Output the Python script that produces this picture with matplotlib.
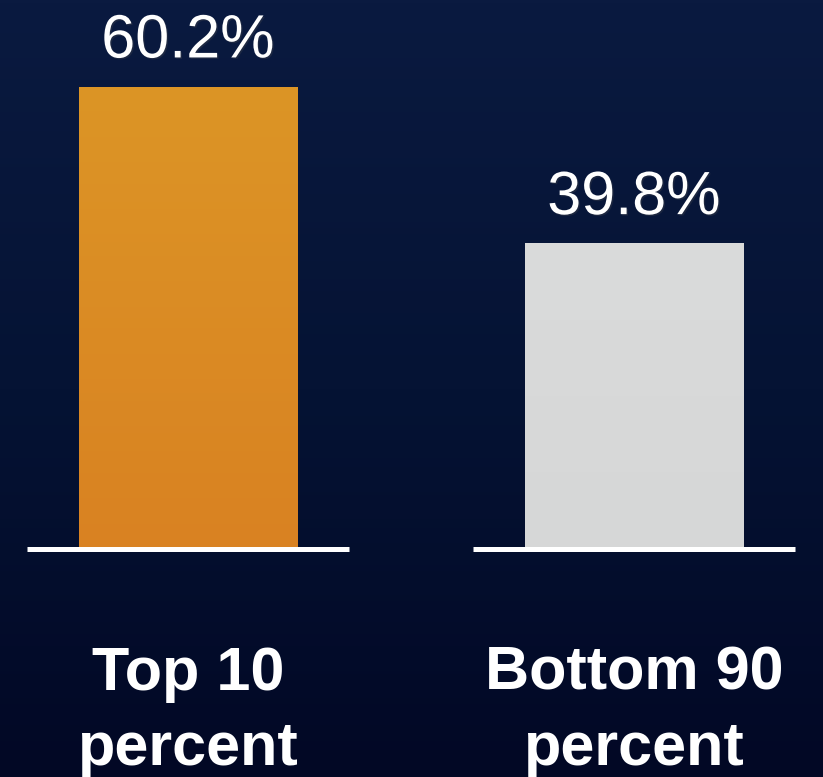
import numpy as np
import matplotlib
matplotlib.use('Agg')
import matplotlib.pyplot as plt
import matplotlib.patheffects as pe
from matplotlib.colors import LinearSegmentedColormap

# data
categories = ['Top 10\npercent', 'Bottom 90\npercent']
shares = [60.2, 39.8]
bar_colors = ['#db8a24', '#d8d9d9']
# bottom / top shade of each bar
bar_shades = [('#d98222', '#dc9526'), ('#d6d7d7', '#dadbdb')]

plt.rcParams['font.family'] = ['Liberation Sans', 'DejaVu Sans']

fig = plt.figure(figsize=(8.23, 7.77), dpi=100)

# background gradient, navy at the top to almost black at the bottom
bg = fig.add_axes([0, 0, 1, 1], zorder=0)
bg_cmap = LinearSegmentedColormap.from_list('bg', ['#020825', '#051334', '#0a1a40'])
bg.imshow(np.linspace(0, 1, 256).reshape(-1, 1), cmap=bg_cmap, aspect='auto',
          origin='lower', extent=[0, 1, 0, 1])
bg.axis('off')

ax = fig.add_axes([0, 0, 1, 1], zorder=1)
ax.patch.set_alpha(0)
ax.axis('off')

x = np.arange(len(categories))
bars = ax.bar(x, shares, width=0.49, color=bar_colors, zorder=2)

# soft vertical shading inside the bars
grad = np.linspace(0, 1, 128).reshape(-1, 1)
for b, (c0, c1) in zip(bars, bar_shades):
    cm = LinearSegmentedColormap.from_list('shade', [c0, c1])
    x0, y0 = b.get_x(), b.get_y()
    im = ax.imshow(grad, cmap=cm, aspect='auto', origin='lower', zorder=2.1,
                   extent=[x0, x0 + b.get_width(), y0, y0 + b.get_height()])
    im.set_clip_path(b)

# baseline under each bar
ax.hlines([0] * len(x), x - 0.36, x + 0.36, color='white', lw=3.6, zorder=3)

shadow = [pe.SimplePatchShadow(offset=(1, -1), alpha=0.3), pe.Normal()]
for xi, v in zip(x, shares):
    ax.annotate(f'{v}%', (xi, v), xytext=(0, 21), textcoords='offset points',
                ha='center', va='baseline', color='white', fontsize=44,
                path_effects=shadow)

# category labels, one text per line
for xi, cat in zip(x, categories):
    for i, line in enumerate(cat.split('\n')):
        ax.text(xi, 0.112 - i * 0.0965, line, transform=ax.get_xaxis_transform(),
                ha='center', va='baseline', color='white', fontsize=44,
                fontweight='bold')

ax.set_xlim(-0.4215, 1.4238)
ax.set_ylim(-29.69, 71.48)

fig.savefig('out.png', dpi=100)
